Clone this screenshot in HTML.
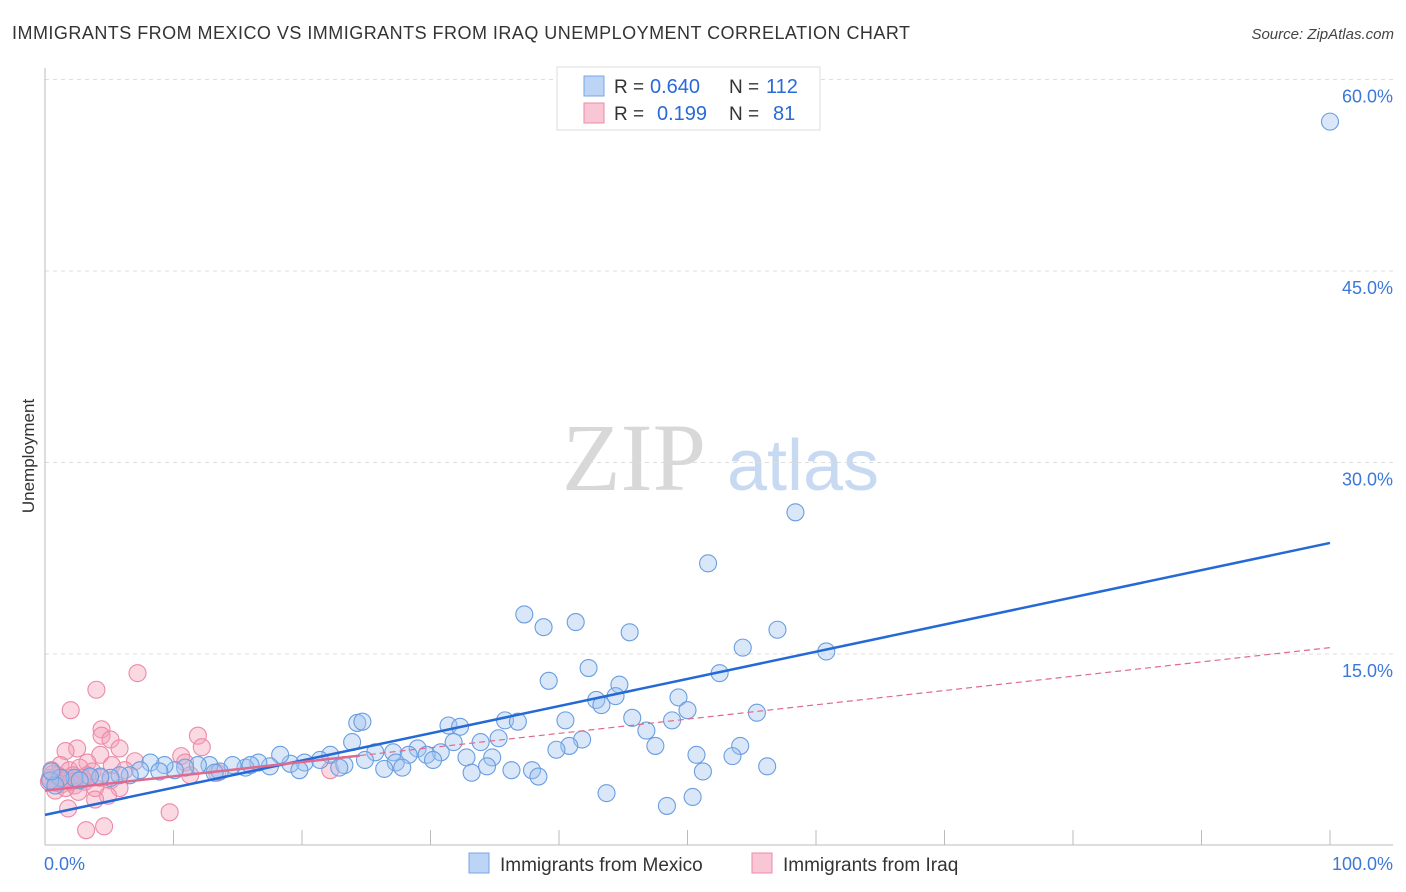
<!DOCTYPE html>
<html><head><meta charset="utf-8"><style>
body{margin:0;background:#fff;font-family:"Liberation Sans",sans-serif;}
svg{display:block}
</style></head><body>
<svg id="chart" width="1406" height="892" xmlns="http://www.w3.org/2000/svg">
<text x="12" y="39" font-size="18" fill="#333" textLength="898" lengthAdjust="spacing">IMMIGRANTS FROM MEXICO VS IMMIGRANTS FROM IRAQ UNEMPLOYMENT CORRELATION CHART</text>
<text x="1394" y="39" font-size="15" fill="#444" font-style="italic" text-anchor="end">Source: ZipAtlas.com</text>
<g>
<text x="634" y="490" font-size="96" fill="#d8d8d8" font-family="Liberation Serif,serif" text-anchor="middle">ZIP</text>
<text x="803" y="490" font-size="72" fill="#c8daf2" text-anchor="middle">atlas</text>
</g>
<g id="grid"></g>
<g id="axes"></g>
<g id="marks"></g>
<text transform="translate(34,456) rotate(-90)" font-size="17" fill="#333" text-anchor="middle">Unemployment</text>
<g>
<rect x="557" y="67" width="263" height="63" fill="#fff" stroke="#ddd"/>
<rect x="584" y="76" width="20" height="20" fill="#bcd4f6" stroke="#7aa6e6"/>
<rect x="584" y="103" width="20" height="20" fill="#f8c6d4" stroke="#ec8aa6"/>
<text x="614" y="93" font-size="19" fill="#333">R =</text>
<text x="650" y="93" font-size="20" fill="#2a6ad6">0.640</text>
<text x="729" y="93" font-size="19" fill="#333">N =</text>
<text x="766" y="93" font-size="20" fill="#2a6ad6">112</text>
<text x="614" y="120" font-size="19" fill="#333">R =</text>
<text x="657" y="120" font-size="20" fill="#2a6ad6">0.199</text>
<text x="729" y="120" font-size="19" fill="#333">N =</text>
<text x="773" y="120" font-size="20" fill="#2a6ad6">81</text>
</g>
<g>
<rect x="469" y="853" width="20" height="20" fill="#bcd4f6" stroke="#7aa6e6"/>
<text x="500" y="871" font-size="19" fill="#333">Immigrants from Mexico</text>
<rect x="752" y="853" width="20" height="20" fill="#f8c6d4" stroke="#ec8aa6"/>
<text x="783" y="871" font-size="19" fill="#333">Immigrants from Iraq</text>
</g>
</svg>
<script>
const yTicks=[15,30,45,60];
const yTickLabels=["15.0%","30.0%","45.0%","60.0%"];
const xTicks=[0,10,20,30,40,50,60,70,80,90,100];
const mexicoX=[100,58.4,51.6,37.3,38.8,41.3,45.5,57.0,54.3,60.8,42.3,39.2,44.7,52.5,42.9,44.4,43.3,49.3,50.0,55.4,45.7,48.8,40.5,35.8,36.8,31.4,32.3,24.3,24.7,46.8,35.3,31.8,33.9,23.9,41.8,40.8,39.8,47.5,54.1,53.5,50.7,29.0,30.8,27.1,25.7,28.3,29.7,30.2,32.8,34.8,27.3,33.2,34.4,26.4,27.8,36.3,37.9,38.4,51.2,56.2,43.7,48.4,50.4,23.3,22.2,21.4,20.2,19.1,18.3,17.5,16.6,15.6,14.6,13.6,12.8,11.9,10.9,10.1,9.3,8.2,7.4,6.6,5.8,5.1,4.3,3.5,2.3,1.2,0.4,0.8,2.7,8.9,13.2,16.0,19.8,22.9,24.9,0.5];
const mexicoY=[56.7,26.1,22.1,18.1,17.1,17.5,16.7,16.9,15.5,15.2,13.9,12.9,12.6,13.5,11.4,11.7,11.0,11.6,10.6,10.4,10.0,9.8,9.8,9.8,9.7,9.4,9.3,9.6,9.7,9.0,8.4,8.1,8.1,8.1,8.3,7.8,7.5,7.8,7.8,7.0,7.1,7.6,7.3,7.3,7.3,7.1,7.1,6.7,6.9,6.9,6.5,5.7,6.2,6.0,6.1,5.9,5.9,5.4,5.8,6.2,4.1,3.1,3.8,6.3,7.1,6.7,6.5,6.4,7.1,6.2,6.5,6.1,6.3,5.8,6.3,6.3,6.1,5.9,6.3,6.5,5.9,5.5,5.5,5.3,5.4,5.4,5.3,5.3,5.1,4.7,5.1,5.8,5.7,6.3,5.9,6.1,6.7,5.8];
const iraqX=[7.2,4.0,2.0,4.4,11.9,4.4,5.1,2.5,1.6,5.8,12.2,10.6,10.9,4.3,3.3,5.2,7.0,1.2,1.9,2.7,3.7,6.2,1.0,1.8,0.4,1.3,2.3,3.1,3.9,4.3,5.1,5.8,4.9,3.9,1.8,3.2,4.6,9.7,11.3,13.4,22.2,0.8,2.6,0.5,3.3,2.2,0.9,1.6,0.3,1.4,2.0,2.9,0.6];
const iraqY=[13.5,12.2,10.6,9.1,8.6,8.6,8.3,7.6,7.4,7.6,7.7,7.0,6.5,7.1,6.5,6.3,6.6,6.3,5.9,6.1,5.8,5.9,5.5,5.3,5.3,4.8,4.7,5.0,4.5,5.3,5.1,4.5,3.9,3.6,2.9,1.2,1.5,2.6,5.5,5.7,5.9,4.3,4.2,5.9,5.5,5.5,4.9,4.5,5.0,5.2,5.0,5.3,5.6];
const mexicoTrend=[2.4,23.7];
const iraqTrend=[4.3,15.5];
const NS="http://www.w3.org/2000/svg";
const X0=45,X1=1330,Y0=845.5,Y60=79.5;
const sx=v=>X0+v/100*(X1-X0);
const sy=v=>Y0-v/60*(Y0-Y60);
function mk(tag,attrs,parent){const e=document.createElementNS(NS,tag);for(const k in attrs)e.setAttribute(k,attrs[k]);parent.appendChild(e);return e;}
const grid=document.getElementById('grid'),axes=document.getElementById('axes'),marks=document.getElementById('marks');
yTicks.forEach((t,i)=>{
 const l=mk('line',{x1:X0,x2:1393,y1:sy(t),y2:sy(t),stroke:'#ddd','stroke-dasharray':'4,4'},grid);
 
 
 const tx=mk('text',{x:1393,y:sy(t)+23,'font-size':18,fill:'#3b78d8','text-anchor':'end'},axes);
 tx.textContent=yTickLabels[i];
 
 
});
const ax=mk('line',{x1:X0,x2:1393,y1:845,y2:845,stroke:'#bbb'},axes);


const ay=mk('line',{x1:X0,x2:X0,y1:68,y2:845,stroke:'#bbb'},axes);


xTicks.forEach(t=>{
 const l=mk('line',{x1:sx(t),x2:sx(t),y1:830,y2:845,stroke:'#bbb'},axes);
 
 
});
const xl0=mk('text',{x:44,y:870,'font-size':18,fill:'#3b78d8'},axes);xl0.textContent='0.0%';


const xl1=mk('text',{x:1393,y:870,'font-size':18,fill:'#3b78d8','text-anchor':'end'},axes);xl1.textContent='100.0%';


iraqX.forEach((v,i)=>{
 const c=mk('circle',{cx:sx(v),cy:sy(iraqY[i]),r:8.5,fill:'rgba(244,160,186,0.4)',stroke:'#ec8aa6','stroke-width':1.1},marks);
 
 
});
mexicoX.forEach((v,i)=>{
 const c=mk('circle',{cx:sx(v),cy:sy(mexicoY[i]),r:8.5,fill:'rgba(160,196,240,0.4)',stroke:'#6a9ee0','stroke-width':1.1},marks);
 
 
});
const mt=mk('line',{x1:sx(0),y1:sy(mexicoTrend[0]),x2:sx(100),y2:sy(mexicoTrend[1]),stroke:'#2469d6','stroke-width':2.5},marks);


const iy=x=>iraqTrend[0]+(iraqTrend[1]-iraqTrend[0])*x/100;
const it1=mk('line',{x1:sx(0),y1:sy(iy(0)),x2:sx(24.5),y2:sy(iy(24.5)),stroke:'#e06a8e','stroke-width':2.5},marks);


const it2=mk('line',{x1:sx(24.5),y1:sy(iy(24.5)),x2:sx(100),y2:sy(iy(100)),stroke:'#e06a8e','stroke-width':1.2,'stroke-dasharray':'6,4'},marks);


</script>
</body></html>
